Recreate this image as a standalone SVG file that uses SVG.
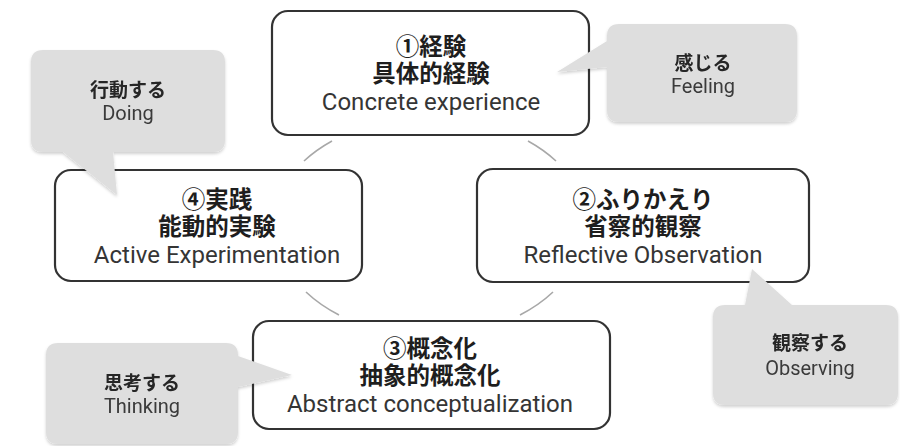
<svg xmlns="http://www.w3.org/2000/svg" width="900" height="446" viewBox="0 0 900 446">
<defs>
<style>
.box{fill:#fff;stroke:#333;stroke-width:2.2}
.bub{fill:#dedede}
.conn{fill:none;stroke:#a8a8a8;stroke-width:1.6}
.jp{font-family:"Roboto","Noto Sans CJK JP",sans-serif;font-weight:bold;font-size:23.5px;fill:#1e1e1e;text-anchor:middle}
.en{font-family:"Roboto","Noto Sans CJK JP",sans-serif;font-size:24px;fill:#353535;text-anchor:middle}
.bjp{font-family:"Roboto","Noto Sans CJK JP",sans-serif;font-weight:bold;font-size:19px;fill:#262626;text-anchor:middle}
.ben{font-family:"Roboto","Noto Sans CJK JP",sans-serif;font-size:20px;fill:#3a3a3a;text-anchor:middle}
</style>
<filter id="sh" x="-10%" y="-10%" width="120%" height="130%">
<feDropShadow dx="0" dy="2" stdDeviation="1.5" flood-color="#000" flood-opacity="0.18"/>
</filter>
</defs>
<rect width="900" height="446" fill="#fff"/>
<g id="connectors">
<path class="conn" d="M304,161 A156,110 0 0 1 332,141"/>
<path class="conn" d="M528,141 A156,110 0 0 1 556,161"/>
<path class="conn" d="M553,292 A156,110 0 0 1 520,315"/>
<path class="conn" d="M339,315 A156,110 0 0 1 306,292"/>
</g>
<g id="node1">
<rect class="box" x="272" y="11" width="317" height="124" rx="16"/>
<text class="jp" x="431" y="55">①経験</text>
<text class="jp" x="431" y="82">具体的経験</text>
<text class="en" x="431" y="110">Concrete experience</text>
</g>
<g id="node2">
<rect class="box" x="477" y="169" width="332" height="113" rx="16"/>
<text class="jp" x="643" y="208">②ふりかえり</text>
<text class="jp" x="643" y="235">省察的観察</text>
<text class="en" x="643" y="263">Reflective Observation</text>
</g>
<g id="node3">
<rect class="box" x="253" y="321" width="357" height="108" rx="16"/>
<text class="jp" x="430" y="357">③概念化</text>
<text class="jp" x="430" y="384">抽象的概念化</text>
<text class="en" x="430" y="412">Abstract conceptualization</text>
</g>
<g id="node4">
<rect class="box" x="55" y="170" width="307" height="111" rx="16"/>
<text class="jp" x="217" y="208">④実践</text>
<text class="jp" x="217" y="235">能動的実験</text>
<text class="en" x="217" y="263">Active Experimentation</text>
</g>
<g id="bubble-doing" filter="url(#sh)">
<path class="bub" d="M43,50 H213 Q225,50 225,62 V140 Q225,152 213,152 H113 L117,195 L63,152 H43 Q31,152 31,140 V62 Q31,50 43,50 Z"/>
<text class="bjp" x="128" y="97">行動する</text>
<text class="ben" x="128" y="120">Doing</text>
</g>
<g id="bubble-feeling" filter="url(#sh)">
<path class="bub" d="M619,24 H785 Q797,24 797,36 V110 Q797,122 785,122 H619 Q607,122 607,110 V67 L557,72 L607,41 V36 Q607,24 619,24 Z"/>
<text class="bjp" x="703" y="70">感じる</text>
<text class="ben" x="703" y="93">Feeling</text>
</g>
<g id="bubble-thinking" filter="url(#sh)">
<path class="bub" d="M58,343 H226 Q238,343 238,355 V356 L292,375 L238,387 V432 Q238,444 226,444 H58 Q46,444 46,432 V355 Q46,343 58,343 Z"/>
<text class="bjp" x="142" y="390">思考する</text>
<text class="ben" x="142" y="413">Thinking</text>
</g>
<g id="bubble-observing" filter="url(#sh)">
<path class="bub" d="M725,305 H745 L752,269 L792,305 H886 Q898,305 898,317 V393 Q898,405 886,405 H725 Q713,405 713,393 V317 Q713,305 725,305 Z"/>
<text class="bjp" x="810" y="350">観察する</text>
<text class="ben" x="810" y="375">Observing</text>
</g>
</svg>
